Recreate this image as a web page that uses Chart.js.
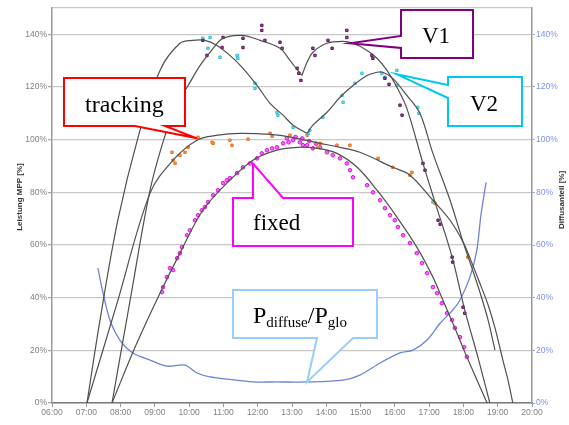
<!DOCTYPE html>
<html>
<head>
<meta charset="UTF-8">
<title>Leistung MPP</title>
<script src="https://cdn.jsdelivr.net/npm/chart.js@4"></script>
<style>
    html, body { margin: 0; padding: 0; background: #fff; }
    #wrap { width: 569px; height: 425px; position: relative; }
</style>
</head>
<body>
<div id="wrap"><canvas id="chart" width="569" height="425"></canvas></div>
<script>
// x axis: time of day (hours), y axes: percent
const timeLabels = ['06:00', '07:00', '08:00', '09:00', '10:00', '11:00', '12:00', '13:00',
    '14:00', '15:00', '16:00', '17:00', '18:00', '19:00', '20:00'];
const pctTicks = [0, 20, 40, 60, 80, 100, 120, 140];

// fitted curves (grey)
const v1FitLeftHours = [7.75, 8.30, 8.86, 9.30, 9.65, 9.94, 10.32, 10.70, 10.99, 11.54, 12.07, 12.65, 12.94, 13.17, 13.29];
const v1FitLeftValues = [0, 40.6, 80.8, 101.7, 113.8, 119.9, 128.2, 134.7, 138.5, 139.6, 137.7, 134.7, 130.1, 126.3, 124.4];
const v1FitRightHours = [13.29, 13.44, 13.61, 14.02, 14.49, 14.78, 15.19, 15.48, 15.77, 16.06, 16.35, 16.82, 17.17, 17.67, 18.04, 18.42, 18.77];
const v1FitRightValues = [124.4, 129.4, 133.2, 136.6, 137.3, 136.6, 133.9, 130.9, 126.3, 119.9, 111.9, 91, 76.3, 55.4, 35.3, 17.5, 0];

const v2FitLeftHours = [7.02, 7.40, 7.92, 8.51, 9.15, 9.73, 10.11, 10.46, 10.81, 11.19, 11.57, 11.98, 12.36, 12.74, 13.03, 13.44];
const v2FitLeftValues = [0, 31.5, 69.4, 100.9, 126.3, 136.6, 137.7, 137.7, 135.8, 132, 127.1, 120.6, 113.8, 109.3, 105.5, 102.4];
const v2FitRightHours = [13.44, 13.61, 14.02, 14.40, 14.78, 15.19, 15.48, 15.65, 15.94, 16.35, 16.73, 17.11, 17.61, 17.99, 18.25, 18.48, 18.72, 18.92];
const v2FitRightValues = [102.4, 105.5, 110.4, 116.1, 120.6, 124.4, 125.6, 125.6, 123.3, 116.8, 110, 94.8, 77, 61.1, 51.2, 42.1, 31.5, 20.1];

const trackFitHours = [7.02, 7.90, 8.86, 9.53, 10.23, 10.84, 11.48, 12.36, 13.00, 13.82, 14.40, 14.98, 15.94, 16.44, 17.11, 17.61, 17.99, 18.25, 18.48, 18.72, 18.92, 19.15, 19.30, 19.44];
const trackFitValues = [0, 38, 79.7, 92.2, 99.8, 101.7, 102.4, 102, 100.9, 98.6, 97.1, 95.2, 89.5, 86.5, 77, 69.4, 61.1, 53.1, 45.5, 37.2, 28.5, 16.3, 8.7, 0];

const fixedFitHours = [7.75, 8.45, 9.15, 9.82, 10.40, 11.10, 11.86, 12.56, 13.15, 13.73, 14.31, 14.90, 15.48, 16.06, 16.64, 17.11, 17.40, 17.75, 18.10, 18.69];
const fixedFitValues = [0, 22, 41.7, 59.2, 73.2, 83.5, 92.2, 96, 97.1, 96.7, 94.8, 89.5, 80.8, 70.6, 59.2, 47.8, 39.1, 28.5, 17.5, 0];

// diffuse share (right axis)
const diffuseHours = [7.34, 7.49, 7.69, 7.98, 8.36, 8.86, 9.35, 9.88, 10.23, 10.61, 11.10, 11.86, 12.56, 13.44, 14.49, 14.98, 15.57, 16.15, 16.53, 16.94, 17.32, 17.69, 17.90, 18.19, 18.39, 18.51, 18.66];
const diffuseValues = [51.2, 41.7, 31.5, 23.9, 19.0, 16.3, 14.0, 14.4, 11.4, 9.9, 9.1, 8.0, 8.0, 8.0, 8.7, 10.6, 15.2, 19.0, 20.1, 23.9, 30.3, 35.3, 39.1, 47.8, 58, 71.3, 83.8];

// measured points
const v1Hours = [10.40, 10.52, 10.96, 10.99, 11.57, 11.57, 12.12, 12.12, 12.21, 12.65, 12.71, 13.15, 13.20, 13.26, 13.61, 13.67, 14.05, 14.17, 14.60, 14.60, 15.33, 15.36, 15.71, 15.83, 16.15, 16.21, 16.82, 16.88, 17.26, 17.32, 17.67, 17.69, 17.99, 18.04];
const v1Values = [137.7, 132, 135, 138.8, 138.5, 135, 143.4, 141.5, 137.7, 137, 134.7, 127.1, 125.2, 122.5, 134.7, 132, 137.7, 134.7, 141.5, 138.8, 132, 130.9, 123.3, 121, 113.1, 109.3, 91, 88.4, 69.4, 67.9, 55.4, 53.5, 36.4, 34.1];

const v2Hours = [10.40, 10.61, 10.55, 10.90, 11.40, 11.42, 11.92, 11.92, 12.56, 12.59, 13.03, 13.47, 13.52, 13.90, 14.46, 14.49, 14.84, 15.04, 15.62, 15.71, 16.06, 16.06, 16.67, 16.70, 17.11];
const v2Values = [138.5, 138.8, 134.7, 131.3, 132, 130.9, 121.4, 119.5, 110.4, 109.3, 104.7, 102.4, 103.6, 108.5, 116.8, 114.2, 121.4, 125.2, 125.2, 123.7, 126.3, 120.6, 112.3, 110, 76.3];

const trackHours = [9.50, 9.53, 9.59, 9.73, 9.88, 9.97, 10.26, 10.67, 10.70, 11.19, 11.25, 11.72, 12.36, 12.42, 12.94, 13.44, 13.82, 13.76, 14.31, 14.69, 15.51, 15.94, 16.44, 16.50, 17.17, 18.13];
const trackValues = [95.2, 92.2, 91, 94.1, 95.2, 97.1, 100.9, 99, 98.6, 99.8, 97.9, 100.2, 102.4, 101.3, 101.7, 101.7, 98.6, 97.1, 97.9, 97.9, 92.9, 89.5, 86.5, 87.6, 75.9, 55.4];

const fixedHours = [9.21, 9.24, 9.35, 9.44, 9.53, 9.65, 9.73, 9.79, 9.94, 10.02, 10.17, 10.26, 10.37, 10.46, 10.55, 10.70, 10.84, 10.99, 11.10, 11.19, 11.40, 11.57, 11.77, 11.98, 12.12, 12.27, 12.42, 12.56, 12.74, 12.85, 12.90, 13.03, 13.10, 13.23, 13.30, 13.32, 13.44, 13.50, 13.61, 13.70, 13.82, 14.02, 14.19, 14.40, 14.60, 14.69, 14.78, 15.19, 15.36, 15.57, 15.71, 15.86, 16.00, 16.09, 16.24, 16.44, 16.64, 16.79, 16.94, 17.11, 17.23, 17.37, 17.52, 17.67, 17.75, 17.90, 18.02, 18.10];
const fixedValues = [42.1, 44, 47.8, 51.2, 50.5, 55, 56.9, 59.2, 63.7, 65.6, 69.4, 71.3, 73.2, 74.4, 76.3, 78.9, 80.8, 83.5, 84.6, 85.4, 87.3, 89.5, 91, 92.9, 94.8, 96, 96.7, 97.1, 98.6, 100.5, 99, 99.8, 101, 99, 100.5, 97.9, 97.9, 99.5, 96.7, 98.5, 97.1, 95.2, 94.1, 92.9, 91, 88.4, 85.7, 82.7, 80, 77, 74, 71.3, 69.4, 66.8, 63.7, 60.7, 56.9, 53.1, 49.3, 44, 41.7, 37.9, 34.1, 31.5, 28.5, 25, 21.2, 17.5];

// callouts: tip given in data units, box in pixels
const callouts = [
    { color: '#800080', box: [401, 10, 473, 58], side: 'left', base: [36, 48], tip: [14.69, 136.6],
      text: [['V1', 23, 0]], textPos: [422, 43] },
    { color: '#00c8f0', box: [448, 77, 522, 126], side: 'left', base: [85, 98], tip: [16.06, 124.8],
      text: [['V2', 23, 0]], textPos: [470, 111] },
    { color: '#ff0000', box: [64, 78, 185, 126], side: 'bottom', base: [135, 165], tip: [10.23, 100.5],
      text: [['tracking', 24, 0]], textPos: [85, 112] },
    { color: '#ff00ff', box: [233, 198, 353, 246], side: 'top', base: [253, 283], tip: [11.86, 91],
      text: [['fixed', 23, 0]], textPos: [253, 230] },
    { color: '#99ccff', box: [233, 290, 377, 338], side: 'bottom', base: [317, 353], tip: [13.44, 8.0],
      text: [['P', 24, 0], ['diffuse', 15, 4], ['/P', 24, 0], ['glo', 15, 4]], textPos: [253, 323] }
];

function pts(hours, values) {
    return hours.map((h, i) => ({ x: h, y: values[i] }));
}

const calloutPlugin = {
    id: 'callouts',
    afterDatasetsDraw(chart) {
        const ctx = chart.ctx;
        const xs = chart.scales.x, ys = chart.scales.y;
        callouts.forEach(c => {
            const [l, t, r, b] = c.box;
            const tx = xs.getPixelForValue(c.tip[0]);
            const ty = ys.getPixelForValue(c.tip[1]);
            ctx.save();
            ctx.beginPath();
            if (c.side === 'left') {
                ctx.moveTo(l, t); ctx.lineTo(r, t); ctx.lineTo(r, b); ctx.lineTo(l, b);
                ctx.lineTo(l, c.base[1]); ctx.lineTo(tx, ty); ctx.lineTo(l, c.base[0]);
            } else if (c.side === 'bottom') {
                ctx.moveTo(l, t); ctx.lineTo(r, t); ctx.lineTo(r, b); ctx.lineTo(c.base[1], b);
                ctx.lineTo(tx, ty); ctx.lineTo(c.base[0], b); ctx.lineTo(l, b);
            } else {
                ctx.moveTo(l, t); ctx.lineTo(c.base[0], t); ctx.lineTo(tx, ty); ctx.lineTo(c.base[1], t);
                ctx.lineTo(r, t); ctx.lineTo(r, b); ctx.lineTo(l, b);
            }
            ctx.closePath();
            ctx.fillStyle = '#fff';
            ctx.fill();
            ctx.lineWidth = 2;
            ctx.strokeStyle = c.color;
            ctx.stroke();

            ctx.fillStyle = '#000';
            ctx.textBaseline = 'alphabetic';
            ctx.textAlign = 'left';
            let px = c.textPos[0];
            c.text.forEach(([s, size, dy]) => {
                ctx.font = size + "px 'Liberation Serif', 'Times New Roman', serif";
                ctx.fillText(s, px, c.textPos[1] + dy);
                px += ctx.measureText(s).width;
            });
            ctx.restore();
        });

        // axis titles, both reading bottom to top
        ctx.save();
        ctx.font = "bold 8px 'Liberation Sans', Arial, sans-serif";
        ctx.fillStyle = '#333';
        ctx.textAlign = 'center';
        ctx.textBaseline = 'middle';
        [[20, 197, 'Leistung MPP [%]'], [562, 200, 'Diffusanteil [%]']].forEach(([x, y, s]) => {
            ctx.save();
            ctx.translate(x, y);
            ctx.rotate(-Math.PI / 2);
            ctx.fillText(s, 0, 0);
            ctx.restore();
        });
        ctx.restore();
    }
};

Chart.defaults.font.family = "'Liberation Sans', Arial, sans-serif";
Chart.defaults.font.size = 8.5;

const fitStyle = { type: 'line', borderColor: '#505050', borderWidth: 1.2, pointRadius: 0, tension: 0.35, fill: false, yAxisID: 'y' };
// hide the tick mark of the unlabeled 150% top line
const tickCol = c => (c.tick && c.tick.value === 150) ? 'rgba(0,0,0,0)' : '#aaa';

new Chart(document.getElementById('chart'), {
    type: 'scatter',
    data: {
        datasets: [
            { ...fitStyle, data: pts(v1FitLeftHours, v1FitLeftValues) },
            { ...fitStyle, data: pts(v1FitRightHours, v1FitRightValues) },
            { ...fitStyle, data: pts(v2FitLeftHours, v2FitLeftValues) },
            { ...fitStyle, data: pts(v2FitRightHours, v2FitRightValues) },
            { ...fitStyle, data: pts(trackFitHours, trackFitValues) },
            { ...fitStyle, data: pts(fixedFitHours, fixedFitValues) },
            { type: 'line', data: pts(diffuseHours, diffuseValues), yAxisID: 'y2',
              borderColor: '#6b84d6', borderWidth: 1.3, pointRadius: 0, tension: 0.3, fill: false },
            { data: pts(v1Hours, v1Values), pointStyle: 'rect', pointRadius: 1.7,
              backgroundColor: '#9a4c9a', borderColor: '#5e145e', borderWidth: 1 },
            { data: pts(v2Hours, v2Values), pointStyle: 'rect', pointRadius: 1.7,
              backgroundColor: '#7fe3ef', borderColor: '#2cc3d8', borderWidth: 1 },
            { data: pts(trackHours, trackValues), pointStyle: 'rect', pointRadius: 1.7,
              backgroundColor: '#f5a060', borderColor: '#ec6f1a', borderWidth: 1 },
            { data: pts(fixedHours, fixedValues), pointStyle: 'circle', pointRadius: 1.8,
              backgroundColor: '#f070f0', borderColor: '#e010e0', borderWidth: 1 }
        ]
    },
    options: {
        responsive: false,
        animation: false,
        devicePixelRatio: 1,
        layout: { padding: { top: 8, left: 0, right: 0, bottom: 0 } },
        plugins: { legend: { display: false }, tooltip: { enabled: false }, title: { display: false } },
        scales: {
            x: {
                type: 'linear', min: 6, max: 20,
                afterFit: s => { s.height = 22; },
                ticks: { stepSize: 1, autoSkip: false, maxRotation: 0, padding: 1, color: '#808080',
                         callback: v => timeLabels[v - 6] },
                grid: { drawOnChartArea: false, tickLength: 4, tickColor: '#999' },
                border: { color: '#7a7a7a', width: 1.5 }
            },
            y: {
                position: 'left', min: 0, max: 150,
                afterFit: s => { s.width = 52; },
                ticks: { stepSize: 20, padding: 1, color: '#808080',
                         callback: v => pctTicks.includes(v) ? v + '%' : '' },
                grid: { color: '#c8c8c8', lineWidth: 1.3, tickLength: 4, tickColor: tickCol },
                border: { color: '#9a9a9a', width: 1.5 }
            },
            y2: {
                position: 'right', min: 0, max: 150,
                afterFit: s => { s.width = 37; },
                ticks: { stepSize: 20, padding: 1, color: '#7f90e6',
                         callback: v => pctTicks.includes(v) ? v + '%' : '' },
                grid: { drawOnChartArea: false, tickLength: 3, tickColor: tickCol },
                border: { color: '#9a9a9a', width: 1.5 }
            }
        }
    },
    plugins: [calloutPlugin]
});
</script>
</body>
</html>
